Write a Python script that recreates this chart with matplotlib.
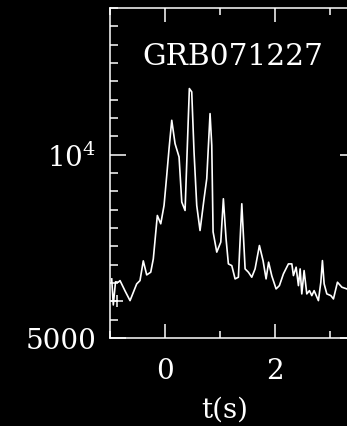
import numpy as np
import matplotlib
matplotlib.use("Agg")
import matplotlib.pyplot as plt
from matplotlib.ticker import FixedLocator, NullFormatter, FixedFormatter

# light curve (time in s, counts)
t = [-0.969, -0.940, -0.900, -0.849, -0.818, -0.727, -0.636, -0.573, -0.515,
     -0.455, -0.395, -0.333, -0.260, -0.213, -0.140, -0.078, -0.018, 0.031,
     0.073, 0.122, 0.182, 0.255, 0.304, 0.364, 0.395, 0.442, 0.485, 0.527,
     0.576, 0.636, 0.709, 0.758, 0.818, 0.849, 0.873, 0.940, 1.013, 1.060,
     1.109, 1.151, 1.213, 1.273, 1.333, 1.395, 1.455, 1.515, 1.576, 1.636,
     1.715, 1.782, 1.836, 1.882, 1.940, 2.018, 2.078, 2.151, 2.242, 2.304,
     2.333, 2.382, 2.424, 2.455, 2.485, 2.527, 2.576, 2.624, 2.667, 2.709,
     2.787, 2.831, 2.860, 2.891, 2.940, 3.013, 3.060, 3.133, 3.213, 3.304,
     3.364, 3.455]
counts = [6252, 5665, 6182, 6174, 6212, 5975, 5759, 5952, 6135,
          6212, 6693, 6347, 6412, 6744, 7946, 7700, 8253, 9245,
          10230, 11388, 10425, 9913, 8360, 8098, 9727, 12840, 12680, 10102,
          8253, 7507, 8465, 9131, 11680, 10358, 7470, 6918, 7185, 8465,
          7275, 6617, 6574, 6252, 6292, 8306, 6493, 6412, 6292, 6493,
          7093, 6693, 6252, 6660, 6324, 6020, 6095, 6372, 6617, 6617,
          6331, 6535, 6095, 6493, 5907, 6452, 5907, 5981, 5869, 5981,
          5759, 6174, 6700, 6135, 5907, 5869, 5796, 6174, 6059, 6020,
          5975, 6020]

# single cross marker near the start
mark_t = [-0.873]
mark_c = [5752]

name = "GRB071227"
ytick_vals = [5000, 10000]
ytick_labels = ["5000", r"$10^4$"]
xtick_vals = [0, 2]
xminor_vals = [-1, 1, 3]

plt.rcParams["font.family"] = "DejaVu Serif"
plt.rcParams["mathtext.fontset"] = "dejavuserif"

fig = plt.figure(figsize=(3.47, 4.27), dpi=100, facecolor="black")
ax = fig.add_axes([110 / 347, 88 / 427, 246 / 347, 330 / 427])
ax.set_facecolor("black")

ax.plot(t, counts, color="white", lw=1.2)
ax.plot(mark_t, mark_c, "+", color="white", ms=8, mew=1.1)

ax.set_yscale("log")
ax.set_xlim(-1, 3.47)
ax.set_ylim(5000, 5000 * 2 ** 1.8)

ax.yaxis.set_major_locator(FixedLocator(ytick_vals))
ax.yaxis.set_major_formatter(FixedFormatter(ytick_labels))
ax.yaxis.set_minor_locator(FixedLocator([5000 * 2 ** (k / 10) for k in range(1, 19)]))
ax.yaxis.set_minor_formatter(NullFormatter())
ax.xaxis.set_major_locator(FixedLocator(xtick_vals))
ax.xaxis.set_minor_locator(FixedLocator(xminor_vals))

for s in ax.spines.values():
    s.set_color("white")
    s.set_linewidth(1.1)

ax.tick_params(axis="both", which="both", direction="in", colors="white",
               top=True, right=True, width=1.1, labelsize=20)
ax.tick_params(axis="x", which="major", length=10, pad=14)
ax.tick_params(axis="x", which="minor", length=5)
ax.tick_params(axis="y", which="major", length=11.5, pad=10)
ax.tick_params(axis="y", which="minor", length=5.8)

ax.set_xlabel("t(s)", color="white", fontsize=20)
ax.xaxis.set_label_coords(0.467, -0.215)
ax.xaxis.label.set_va("center")

ax.text(0.5, 0.83, name, transform=ax.transAxes, ha="center", va="baseline",
        color="white", fontsize=21.3)

fig.savefig("out.png", dpi=100, facecolor="black")
